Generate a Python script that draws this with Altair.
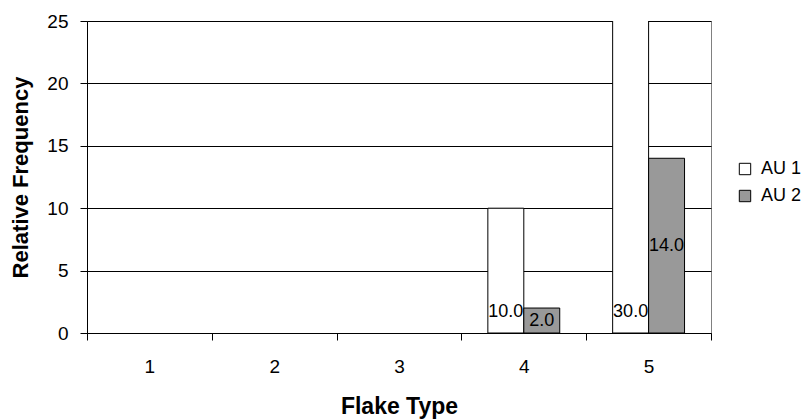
import altair as alt
import pandas as pd

# Relative frequency of flake types per analytic unit
flake_types = ["1", "2", "3", "4", "5"]
series_names = ["AU 1", "AU 2"]
au1_values = [None, None, None, 10.0, 30.0]
au2_values = [None, None, None, 2.0, 14.0]
y_ticks = [0, 5, 10, 15, 20, 25]

rows = []
for name, vals in zip(series_names, [au1_values, au2_values]):
    for t, v in zip(flake_types, vals):
        if v is not None:
            rows.append({"type": t, "series": name, "value": v})
df = pd.DataFrame(rows)

FONT = "Liberation Sans"

x_enc = alt.X(
    "type:N",
    scale=alt.Scale(domain=flake_types, paddingInner=0, paddingOuter=0),
    axis=alt.Axis(
        title="Flake Type",
        labelAngle=0,
        tickBand="extent",
        tickSize=7,
        labelPadding=17,
        labelFontSize=19,
        titleFontSize=23,
        titleFontWeight="bold",
        titleY=80,
        titleBaseline="alphabetic",
        domainColor="black",
        tickColor="black",
        labelColor="black",
        titleColor="black",
        grid=False,
        zindex=0,
    ),
)
xoff_enc = alt.XOffset(
    "series:N",
    scale=alt.Scale(domain=series_names, paddingInner=0, paddingOuter=0.736),
)
y_scale = alt.Scale(domain=[0, 25], nice=False)
y_axis = alt.Axis(
    title="Relative Frequency",
    values=y_ticks,
    tickSize=7,
    labelPadding=12,
    labelFontSize=19,
    titleFontSize=22,
    titleFontWeight="bold",
    titleX=-67,
    titleY=156,
    titleAlign="center",
    titleBaseline="middle",
    grid=True,
    gridColor="black",
    gridWidth=1,
    domainColor="black",
    tickColor="black",
    labelColor="black",
    titleColor="black",
    zindex=0,
)

bars = alt.Chart(df).mark_bar(
    stroke="black", strokeWidth=1, clip=True, opacity=1, fillOpacity=1
).encode(
    x=x_enc,
    xOffset=xoff_enc,
    y=alt.Y("value:Q", scale=y_scale, axis=y_axis),
    color=alt.Color(
        "series:N",
        scale=alt.Scale(domain=series_names, range=["#ffffff", "#999999"]),
        legend=alt.Legend(
            title=None,
            orient="none",
            legendX=649,
            legendY=139,
            symbolType="square",
            symbolSize=130,
            symbolStrokeColor="black",
            symbolStrokeWidth=1,
            symbolOpacity=1,
            labelFontSize=18,
            labelOffset=7,
            rowPadding=9,
            labelColor="black",
        ),
    ),
)

# AU 1 labels sit just above the base of the bar
labels_au1 = (
    alt.Chart(df)
    .transform_filter(alt.datum.series == "AU 1")
    .transform_calculate(base="0")
    .mark_text(baseline="alphabetic", dy=-16, fontSize=18, font=FONT, color="black")
    .encode(
        x=x_enc,
        xOffset=xoff_enc,
        y=alt.Y("base:Q", scale=y_scale, axis=y_axis),
        text=alt.Text("value:Q", format=".1f"),
    )
)

# AU 2 labels are centred in the bar
labels_au2 = (
    alt.Chart(df)
    .transform_filter(alt.datum.series == "AU 2")
    .transform_calculate(mid="datum.value / 2")
    .mark_text(baseline="middle", fontSize=18, font=FONT, color="black")
    .encode(
        x=x_enc,
        xOffset=xoff_enc,
        y=alt.Y("mid:Q", scale=y_scale, axis=y_axis),
        text=alt.Text("value:Q", format=".1f"),
    )
)

chart = (
    alt.layer(bars, labels_au1, labels_au2)
    .properties(
        width=624,
        height=312,
        autosize="none",
        padding={"left": 87, "top": 21, "right": 100, "bottom": 86},
        background="white",
    )
    .configure(font=FONT)
    .configure_view(stroke="#808080", strokeWidth=1)
)

chart.save("out.html", embed_options={"renderer": "svg", "actions": False})
